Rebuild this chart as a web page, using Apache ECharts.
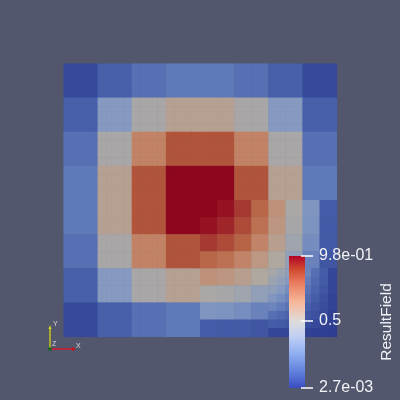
<!DOCTYPE html>
<html><head><meta charset="utf-8">
<style>html,body{margin:0;padding:0;background:#52576e}#c{width:400px;height:400px}</style>
<script src="https://cdn.jsdelivr.net/npm/echarts@6/dist/echarts.min.js"></script>
</head><body><div id="c"></div>
<script>
// 8x8 whole-domain cells, top row first
const coarseValues = [
 [.04,.11,.16,.19,.19,.16,.11,.04],
 [.11,.31,.46,.55,.55,.46,.31,.11],
 [.16,.46,.69,.82,.82,.69,.46,.16],
 [.19,.55,.82,.99,.99,.82,.55,.19],
 [.19,.55,.82,.99,.99,.82,.55,.19],
 [.16,.46,.69,.82,.82,.69,.46,.16],
 [.11,.31,.46,.55,.55,.46,.31,.11],
 [.04,.11,.16,.19,.19,.16,.11,.04]
];
// refined lower-right quadrant (8x8)
const mediumValues = [
 [.99,.96,.88,.77,.63,.47,.29,.10],
 [.96,.92,.84,.74,.61,.45,.28,.09],
 [.88,.84,.78,.68,.56,.42,.26,.09],
 [.77,.74,.68,.60,.49,.36,.22,.08],
 [.63,.61,.56,.49,.49,.36,.22,.08],
 [.47,.45,.42,.36,.36,.27,.16,.05],
 [.29,.28,.26,.22,.22,.16,.10,.03],
 [.10,.09,.09,.08,.08,.05,.03,.01]
];
// twice-refined lower-right corner (8x8)
const fineValues = [
 [.45,.40,.35,.29,.23,.16,.10,.03],
 [.40,.36,.31,.26,.20,.14,.09,.03],
 [.35,.31,.26,.22,.17,.12,.08,.03],
 [.29,.26,.22,.18,.14,.10,.06,.02],
 [.23,.20,.17,.14,.11,.08,.05,.02],
 [.16,.14,.12,.10,.08,.06,.04,.01],
 [.10,.09,.08,.06,.05,.04,.02,.01],
 [.03,.03,.03,.02,.02,.01,.01,.00]
];
const meshColors = ['#2d3c91','#455da8','#627dba','#8498c2','#9ba3b1','#b0a89e','#bc9884','#c27f61','#b45d3f','#a2302d','#8c001c'];
const scalarMin = 0.0027, scalarMax = 0.98;
const scalarTicks = [0.0027, 0.5, 0.98];
const scalarTickLabels = ['2.7e-03', '0.5', '9.8e-01'];
const scalarTitle = 'ResultField';
const barStops = [[0,'#b40426'],[.1,'#d0492f'],[.2,'#e87a5e'],[.35,'#f7b899'],[.5,'#dddddd'],[.62,'#bccdf5'],[.75,'#8cabf0'],[.88,'#5f7fdc'],[1,'#3b4cc0']];

const n = 32, cats = Array.from({length:n},(_,i)=>i), cells = [];
for (let r=0;r<n;r++) for (let c=0;c<n;c++){
  let v;
  if (r>=24 && c>=24) v = fineValues[r-24][c-24];
  else if (r>=16 && c>=16) v = mediumValues[(r-16)>>1][(c-16)>>1];
  else v = coarseValues[r>>2][c>>2];
  cells.push([c,r,v]);
}
const chart = echarts.init(document.getElementById('c'),null,{renderer:'canvas'});
const tri = {fontFamily:'Liberation Sans',fontSize:7,fill:'#d8d8d8'};
chart.setOption({
  animation:false,
  backgroundColor:'#52576e',
  grid:[
    {left:63.7,top:63.7,width:273.1,height:273.1},
    {left:289,top:256,width:16,height:132,z:5}
  ],
  xAxis:[
    {type:'category',data:cats,gridIndex:0,show:false},
    {type:'category',data:['f'],gridIndex:1,show:false}
  ],
  yAxis:[
    {type:'category',data:cats,gridIndex:0,inverse:true,show:false},
    {type:'value',gridIndex:1,position:'right',offset:-4,min:scalarMin,max:scalarMax,z:10,
     splitLine:{show:false},axisLine:{show:false},
     axisTick:{show:true,length:12,inside:false,customValues:scalarTicks,lineStyle:{color:'#ffffff',width:1.5}},
     axisLabel:{show:true,margin:18,color:'#f2f2f5',fontFamily:'Liberation Sans',fontSize:16,
       customValues:scalarTicks,padding:[0,0,3,0],formatter:v=>scalarTickLabels[scalarTicks.indexOf(v)]},
     name:scalarTitle,nameLocation:'middle',nameRotate:90,nameGap:78,
     nameTextStyle:{color:'#f2f2f5',fontFamily:'Liberation Sans',fontSize:15.5}}
  ],
  visualMap:[{type:'continuous',seriesIndex:0,dimension:2,min:0,max:1,show:false,inRange:{color:meshColors}}],
  series:[
    {type:'heatmap',xAxisIndex:0,yAxisIndex:0,data:cells,progressive:0,silent:true,itemStyle:{borderWidth:0},emphasis:{disabled:true}},
    {type:'bar',xAxisIndex:1,yAxisIndex:1,data:[scalarMax],barWidth:'100%',silent:true,z:5,
     itemStyle:{color:{type:'linear',x:0,y:0,x2:0,y2:1,colorStops:barStops.map(s=>({offset:s[0],color:s[1]}))}}}
  ],
  graphic:[
    {type:'line',shape:{x1:50,y1:349,x2:73,y2:349},style:{stroke:'#e8141c',lineWidth:1.3},z:20},
    {type:'line',shape:{x1:50,y1:349,x2:50,y2:328},style:{stroke:'#d4d414',lineWidth:1.3},z:20},
    {type:'polygon',shape:{points:[[72,347],[76,349],[72,351]]},style:{fill:'#d01018'},z:20},
    {type:'polygon',shape:{points:[[48.5,329],[50,325],[51.5,329]]},style:{fill:'#d8d820'},z:20},
    {type:'rect',shape:{x:48.5,y:347.5,width:3,height:3},style:{fill:'#0a6a1e'},z:21},
    {type:'text',x:76,y:343,style:Object.assign({text:'X'},tri),z:21},
    {type:'text',x:53,y:321,style:Object.assign({text:'Y'},tri),z:21},
    {type:'text',x:52,y:341,style:Object.assign({text:'Z'},tri),z:21}
  ]
});
</script></body></html>
